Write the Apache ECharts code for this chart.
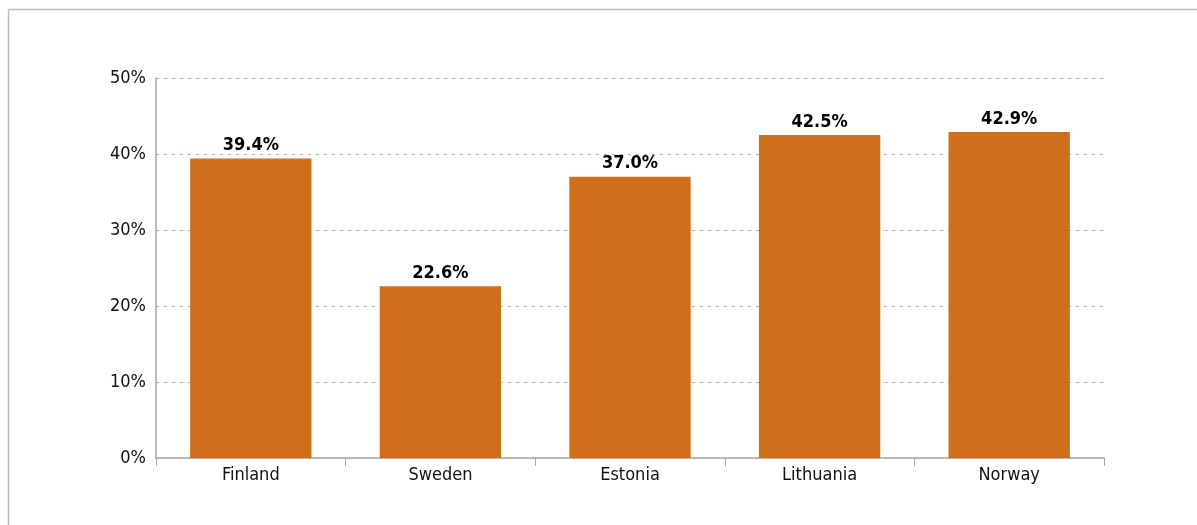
<!DOCTYPE html>
<html>
<head>
<meta charset="utf-8">
<script src="https://cdn.jsdelivr.net/npm/echarts@6/dist/echarts.min.js"></script>
<style>
  html, body { margin: 0; padding: 0; background: #fff; }
  #chart { width: 1197px; height: 525px; }
</style>
</head>
<body>
<div id="chart"></div>
<script>
// Share by country (percent)
const countries = ['Finland', 'Sweden', 'Estonia', 'Lithuania', 'Norway'];
const shares = [39.4, 22.6, 37.0, 42.5, 42.9];
const yTicks = [0, 10, 20, 30, 40, 50];

const FONT = '"Liberation Sans Narrow", "DejaVu Sans Condensed", "Roboto Condensed", sans-serif';
const BAR = '#CF6F1C';

const chart = echarts.init(document.getElementById('chart'), null, { renderer: 'canvas' });

chart.setOption({
  animation: false,
  backgroundColor: '#fff',
  grid: { left: 156, right: 93, top: 78, bottom: 67, containLabel: false },
  graphic: [
    { type: 'line', shape: { x1: 8.5, y1: 9.5, x2: 1197, y2: 9.5 }, style: { stroke: '#bdbdbd', lineWidth: 1.5 } },
    { type: 'line', shape: { x1: 8.5, y1: 9.5, x2: 8.5, y2: 525 }, style: { stroke: '#bdbdbd', lineWidth: 1.5 } }
  ],
  xAxis: {
    type: 'category',
    data: countries,
    axisLine: { show: true, lineStyle: { color: '#a6a6a6', width: 1.5 } },
    axisTick: { show: true, alignWithLabel: false, length: 8, lineStyle: { color: '#a6a6a6' } },
    axisLabel: { color: '#111', fontFamily: FONT, fontSize: 18, margin: 8 }
  },
  yAxis: {
    type: 'value',
    min: yTicks[0],
    max: yTicks[yTicks.length - 1],
    interval: 10,
    axisLine: { show: true, lineStyle: { color: '#a6a6a6', width: 1.5 } },
    axisTick: { show: false },
    axisLabel: { color: '#111', fontFamily: FONT, fontSize: 18, margin: 10, formatter: '{value}%' },
    splitLine: { show: true, lineStyle: { color: '#aaaaaa', type: [3, 5], width: 1 } }
  },
  series: [{
    type: 'bar',
    data: shares,
    barWidth: '64%',
    itemStyle: { color: BAR },
    label: {
      show: true,
      position: 'top',
      distance: 4,
      color: '#000',
      fontFamily: FONT,
      fontWeight: 'bold',
      fontSize: 18,
      formatter: p => p.value.toFixed(1) + '%'
    }
  }]
});
</script>
</body>
</html>
